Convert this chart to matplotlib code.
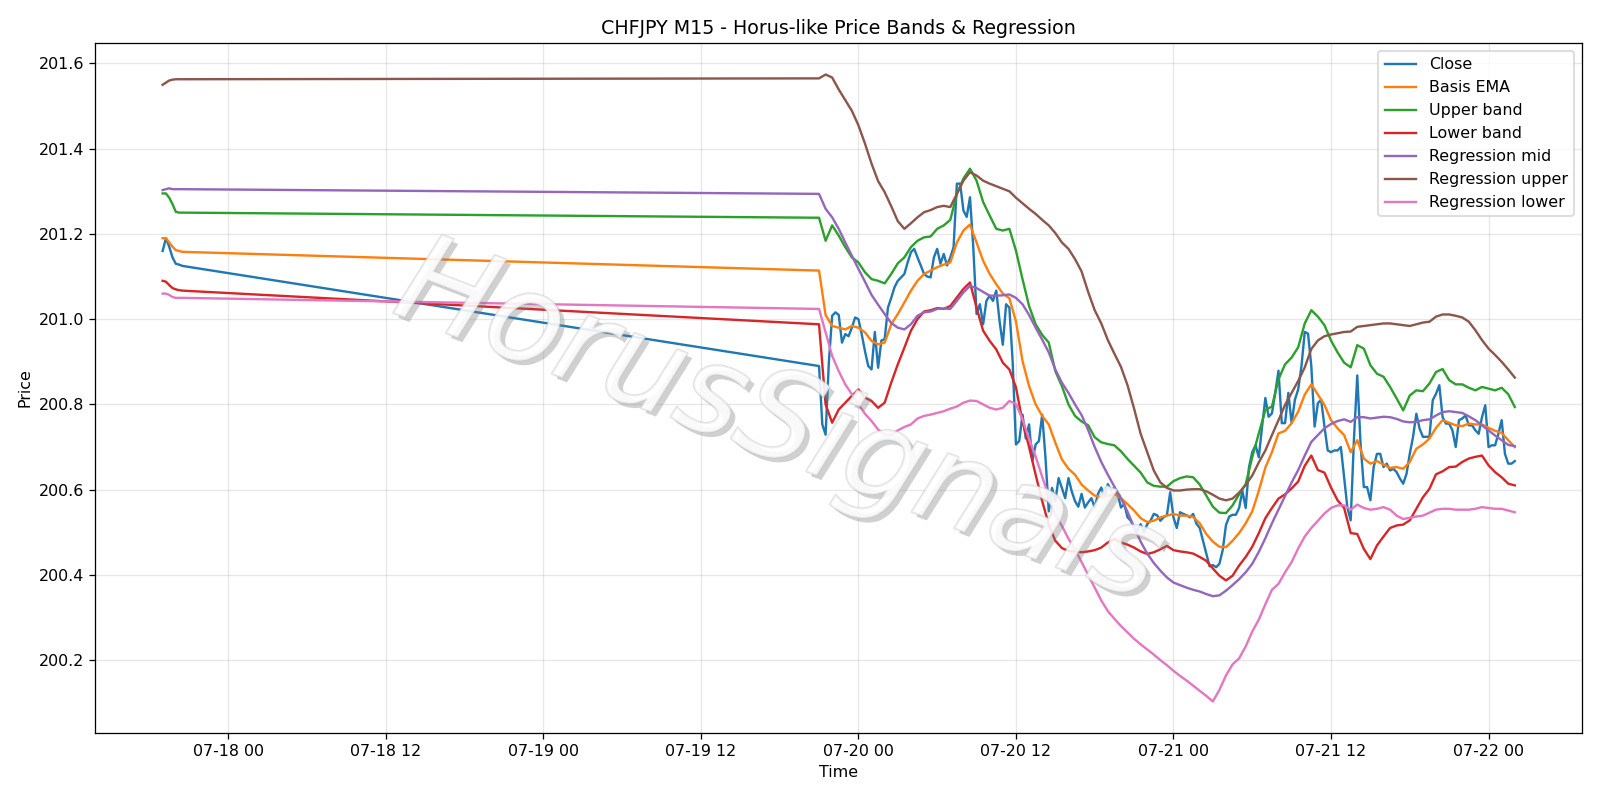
import matplotlib
matplotlib.use("Agg")
import matplotlib.pyplot as plt
import matplotlib.patheffects as pe
import pandas as pd

# ---------------- data ----------------
# early session (07-17, 15-min bars)
early_times = pd.date_range("2025-07-17 19:00", periods=7, freq="15min")
close_early = [201.160, 201.190, 201.170, 201.145, 201.130, 201.128, 201.125]
basis_early = [201.190, 201.190, 201.180, 201.170, 201.162, 201.160, 201.158]
upper_early = [201.295, 201.295, 201.285, 201.270, 201.252, 201.250, 201.250]
lower_early = [201.090, 201.088, 201.080, 201.073, 201.070, 201.068, 201.067]
regmid_early = [201.303, 201.305, 201.307, 201.305, 201.305, 201.305, 201.305]
regup_early = [201.550, 201.555, 201.560, 201.562, 201.563, 201.563, 201.563]
reglo_early = [201.060, 201.060, 201.057, 201.052, 201.050, 201.050, 201.050]

# main session: close at 15-min, indicators read at 30-min
close_times = pd.date_range("2025-07-19 21:00", "2025-07-22 02:00", freq="15min")
ind_times = pd.date_range("2025-07-19 21:00", "2025-07-22 02:00", freq="30min")

close = [
    200.890, 200.753, 200.729, 200.900, 201.008, 201.016, 201.010, 200.945, 200.965, 200.960, 200.980, 201.004,
    201.000, 200.965, 200.925, 200.890, 200.882, 200.970, 200.886, 200.950, 200.953, 201.027, 201.050, 201.075,
    201.090, 201.098, 201.106, 201.133, 201.157, 201.165, 201.145, 201.126, 201.106, 201.100, 201.098, 201.145,
    201.165, 201.130, 201.153, 201.126, 201.145, 201.169, 201.318, 201.318, 201.255, 201.240, 201.286, 201.169,
    201.012, 201.035, 200.988, 201.043, 201.055, 201.043, 201.067, 200.996, 200.940, 201.035, 201.027, 200.900,
    200.706, 200.714, 200.776, 200.720, 200.753, 200.667, 200.706, 200.714, 200.776, 200.675, 200.549, 200.604,
    200.573, 200.627, 200.604, 200.580, 200.627, 200.596, 200.573, 200.560, 200.590, 200.558, 200.570, 200.580,
    200.558, 200.590, 200.605, 200.582, 200.613, 200.598, 200.605, 200.590, 200.558, 200.566, 200.535, 200.527,
    200.510, 200.504, 200.519, 200.500, 200.519, 200.527, 200.543, 200.540, 200.527, 200.535, 200.540, 200.594,
    200.535, 200.510, 200.547, 200.543, 200.540, 200.535, 200.543, 200.520, 200.510, 200.480, 200.449, 200.420,
    200.423, 200.418, 200.426, 200.458, 200.517, 200.537, 200.541, 200.541, 200.557, 200.597, 200.557, 200.652,
    200.688, 200.704, 200.676, 200.748, 200.815, 200.771, 200.779, 200.827, 200.879, 200.756, 200.756, 200.827,
    200.756, 200.811, 200.835, 200.890, 200.970, 200.966, 200.890, 200.748, 200.803, 200.811, 200.748, 200.692,
    200.688, 200.692, 200.692, 200.700, 200.629, 200.557, 200.528, 200.720, 200.868, 200.708, 200.606, 200.606,
    200.575, 200.653, 200.684, 200.684, 200.653, 200.661, 200.645, 200.649, 200.641, 200.626, 200.614, 200.637,
    200.684, 200.724, 200.778, 200.743, 200.724, 200.724, 200.724, 200.810, 200.825, 200.845, 200.770, 200.755,
    200.755, 200.739, 200.700, 200.763, 200.767, 200.774, 200.751, 200.751, 200.739, 200.731, 200.770, 200.798,
    200.700, 200.704, 200.704, 200.731, 200.763, 200.684, 200.661, 200.661, 200.667,
]

basis = [
    201.114, 201.010, 200.984, 200.980, 200.976, 200.984,
    200.980, 200.969, 200.949, 200.941, 200.945, 200.988, 201.012, 201.039, 201.067, 201.090, 201.106, 201.114,
    201.122, 201.128, 201.133, 201.180, 201.208, 201.222, 201.180, 201.137, 201.106, 201.082, 201.060, 201.049,
    200.995, 200.902, 200.843, 200.800, 200.773, 200.753, 200.710, 200.671, 200.649, 200.635, 200.612, 200.598,
    200.586, 200.582, 200.586, 200.590, 200.580, 200.566, 200.551, 200.533, 200.524, 200.527, 200.535, 200.539,
    200.543, 200.539, 200.539, 200.536, 200.521, 200.496, 200.478, 200.466, 200.465, 200.480, 200.498, 200.521,
    200.549, 200.597, 200.652, 200.688, 200.732, 200.738, 200.756, 200.783, 200.823, 200.847, 200.823, 200.799,
    200.763, 200.744, 200.728, 200.688, 200.716, 200.673, 200.661, 200.667, 200.659, 200.651, 200.653, 200.649,
    200.665, 200.696, 200.706, 200.720, 200.745, 200.763, 200.757, 200.751, 200.749, 200.755, 200.753, 200.753,
    200.745, 200.738, 200.733, 200.716, 200.700,
]

upper = [
    201.238, 201.184, 201.220, 201.196, 201.169, 201.145,
    201.133, 201.110, 201.094, 201.090, 201.084, 201.106, 201.131, 201.145, 201.169, 201.184, 201.192, 201.194,
    201.212, 201.220, 201.233, 201.294, 201.330, 201.353, 201.325, 201.275, 201.243, 201.212, 201.208, 201.212,
    201.161, 201.094, 201.031, 200.988, 200.963, 200.945, 200.878, 200.843, 200.800, 200.773, 200.760, 200.751,
    200.723, 200.711, 200.707, 200.704, 200.690, 200.672, 200.656, 200.640, 200.617, 200.609, 200.607, 200.607,
    200.620, 200.627, 200.631, 200.629, 200.612, 200.586, 200.560, 200.546, 200.545, 200.563, 200.589, 200.613,
    200.676, 200.732, 200.787, 200.795, 200.859, 200.894, 200.910, 200.934, 200.990, 201.021, 201.006, 200.986,
    200.950, 200.922, 200.898, 200.887, 200.939, 200.931, 200.892, 200.872, 200.865, 200.841, 200.814, 200.786,
    200.821, 200.833, 200.831, 200.849, 200.876, 200.883, 200.857, 200.847, 200.847, 200.839, 200.833, 200.841,
    200.837, 200.833, 200.839, 200.824, 200.794,
]

lower = [
    200.988, 200.800, 200.757, 200.788, 200.804, 200.820,
    200.835, 200.816, 200.808, 200.792, 200.804, 200.851, 200.894, 200.933, 200.973, 201.000, 201.018, 201.021,
    201.026, 201.024, 201.031, 201.051, 201.071, 201.086, 201.027, 200.973, 200.949, 200.929, 200.898, 200.882,
    200.840, 200.760, 200.700, 200.635, 200.573, 200.518, 200.480, 200.463, 200.456, 200.455, 200.453, 200.455,
    200.458, 200.464, 200.476, 200.484, 200.476, 200.471, 200.464, 200.455, 200.449, 200.453, 200.460, 200.468,
    200.458, 200.455, 200.453, 200.450, 200.442, 200.433, 200.415, 200.398, 200.387, 200.398, 200.422, 200.442,
    200.466, 200.498, 200.533, 200.557, 200.579, 200.589, 200.603, 200.619, 200.656, 200.680, 200.646, 200.640,
    200.605, 200.575, 200.557, 200.498, 200.496, 200.461, 200.437, 200.469, 200.490, 200.510, 200.516, 200.518,
    200.528, 200.555, 200.582, 200.602, 200.636, 200.643, 200.653, 200.654, 200.665, 200.673, 200.677, 200.680,
    200.657, 200.641, 200.629, 200.614, 200.610,
]

reg_mid = [
    201.294, 201.259, 201.239, 201.212, 201.180, 201.149,
    201.118, 201.088, 201.057, 201.034, 201.012, 200.991, 200.980, 200.976, 200.988, 201.008, 201.016, 201.018,
    201.024, 201.025, 201.024, 201.043, 201.063, 201.078, 201.073, 201.064, 201.055, 201.055, 201.056, 201.058,
    201.050, 201.035, 201.010, 200.980, 200.952, 200.922, 200.882, 200.851, 200.827, 200.800, 200.775, 200.740,
    200.700, 200.665, 200.635, 200.607, 200.580, 200.548, 200.512, 200.478, 200.450, 200.428, 200.410, 200.394,
    200.382, 200.376, 200.370, 200.365, 200.361, 200.355, 200.350, 200.352, 200.363, 200.376, 200.390, 200.406,
    200.426, 200.454, 200.486, 200.521, 200.553, 200.585, 200.617, 200.646, 200.680, 200.712, 200.728, 200.744,
    200.754, 200.761, 200.765, 200.759, 200.770, 200.770, 200.767, 200.769, 200.771, 200.770, 200.766, 200.760,
    200.758, 200.759, 200.763, 200.765, 200.774, 200.782, 200.784, 200.782, 200.780, 200.772, 200.763, 200.751,
    200.739, 200.727, 200.716, 200.705, 200.702,
]

reg_upper = [
    201.565, 201.574, 201.567, 201.539, 201.514, 201.489,
    201.455, 201.412, 201.365, 201.324, 201.298, 201.265, 201.230, 201.212, 201.225, 201.239, 201.251, 201.256,
    201.263, 201.266, 201.263, 201.294, 201.325, 201.345, 201.337, 201.325, 201.318, 201.312, 201.306, 201.300,
    201.285, 201.272, 201.259, 201.247, 201.233, 201.220, 201.202, 201.180, 201.165, 201.141, 201.112, 201.064,
    201.021, 200.990, 200.951, 200.919, 200.888, 200.845, 200.790, 200.731, 200.688, 200.645, 200.617, 200.604,
    200.598, 200.598, 200.600, 200.601, 200.601, 200.596, 200.588, 200.579, 200.575, 200.579, 200.593, 200.611,
    200.633, 200.664, 200.692, 200.728, 200.763, 200.799, 200.827, 200.855, 200.887, 200.930, 200.950, 200.960,
    200.964, 200.967, 200.970, 200.971, 200.982, 200.984, 200.986, 200.988, 200.990, 200.990, 200.988, 200.986,
    200.984, 200.988, 200.992, 200.994, 201.006, 201.011, 201.011, 201.008, 201.004, 200.994, 200.974, 200.951,
    200.931, 200.916, 200.900, 200.882, 200.863,
]

reg_lower = [
    201.024, 200.969, 200.914, 200.878, 200.847, 200.824,
    200.800, 200.778, 200.761, 200.741, 200.729, 200.729, 200.739, 200.747, 200.753, 200.767, 200.773, 200.776,
    200.780, 200.784, 200.790, 200.795, 200.804, 200.809, 200.808, 200.800, 200.792, 200.788, 200.792, 200.808,
    200.801, 200.765, 200.719, 200.678, 200.630, 200.585, 200.540, 200.515, 200.485, 200.460, 200.430, 200.400,
    200.370, 200.340, 200.315, 200.297, 200.280, 200.265, 200.250, 200.237, 200.225, 200.213, 200.200, 200.188,
    200.175, 200.163, 200.152, 200.140, 200.128, 200.116, 200.103, 200.130, 200.164, 200.190, 200.204, 200.232,
    200.267, 200.295, 200.331, 200.365, 200.379, 200.406, 200.430, 200.462, 200.490, 200.510, 200.527, 200.544,
    200.557, 200.563, 200.563, 200.553, 200.565, 200.557, 200.553, 200.555, 200.559, 200.553, 200.539, 200.531,
    200.534, 200.537, 200.539, 200.546, 200.553, 200.555, 200.555, 200.553, 200.553, 200.553, 200.555, 200.559,
    200.557, 200.555, 200.555, 200.551, 200.547,
]

title = "CHFJPY M15 - Horus-like Price Bands & Regression"
watermark = "HorusSignals"

# ---------------- plot ----------------
DPI = 800 / 7
fig, ax = plt.subplots(figsize=(14, 7), dpi=DPI)

t_close = early_times.append(close_times)
t_ind = early_times.append(ind_times)

series = [
    ("Close", t_close, close_early + close),
    ("Basis EMA", t_ind, basis_early + basis),
    ("Upper band", t_ind, upper_early + upper),
    ("Lower band", t_ind, lower_early + lower),
    ("Regression mid", t_ind, regmid_early + reg_mid),
    ("Regression upper", t_ind, regup_early + reg_upper),
    ("Regression lower", t_ind, reglo_early + reg_lower),
]
for name, t, v in series:
    ax.plot(t, v, label=name)

ax.set_title(title)
ax.set_xlabel("Time")
ax.set_ylabel("Price")
ax.grid(True, alpha=0.3)
ax.legend(loc="upper right")

fig.subplots_adjust(left=0.0594, right=0.989, top=0.946, bottom=0.084)

fig.text(0.487, 0.47, watermark, fontsize=78, style="italic",
         color="white", alpha=0.5, rotation=-21,
         ha="center", va="center",
         path_effects=[pe.withSimplePatchShadow(offset=(3, -3), shadow_rgbFace="#7a7a7a", alpha=0.35),
                       pe.Stroke(linewidth=1.4, foreground="#c4c4c4"),
                       pe.Normal()])

fig.savefig("out.png", dpi=DPI)
